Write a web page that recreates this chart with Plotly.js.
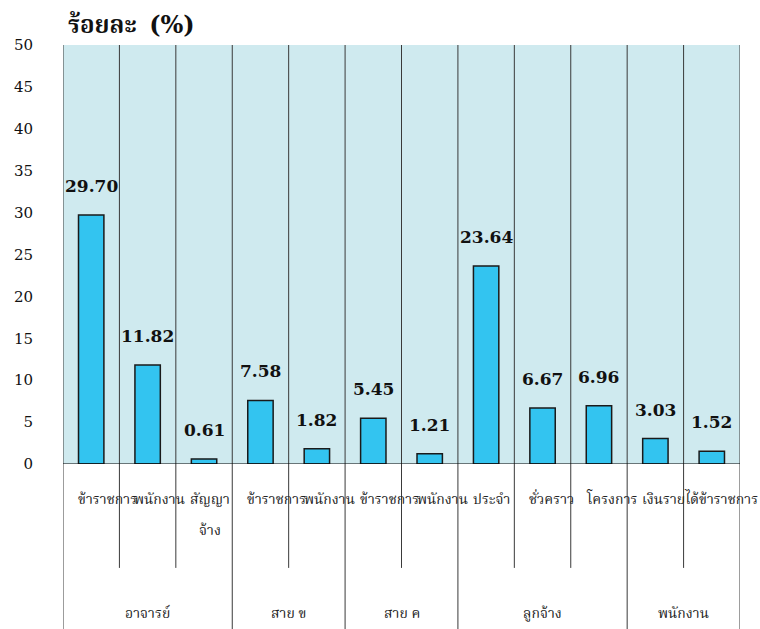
<!DOCTYPE html>
<html>
<head>
<meta charset="utf-8">
<script src="https://cdn.plot.ly/plotly-3.0.1.min.js"></script>
<style>html,body{margin:0;padding:0;background:#fff;}#chart{width:760px;height:629px;}</style>
</head>
<body>
<div id="chart"></div>
<script>
const groups = ["อาจารย์", "สาย ข", "สาย ค", "ลูกจ้าง", "พนักงาน"];
const groupSizes = [3, 2, 2, 3, 2];
const subLabels = ["ข้าราชการ", "พนักงาน", "สัญญา<br>จ้าง", "ข้าราชการ", "พนักงาน", "ข้าราชการ", "พนักงาน", "ประจำ", "ชั่วคราว", "โครงการ", "เงินรายได้", "ข้าราชการ"];
const values = [29.70, 11.82, 0.61, 7.58, 1.82, 5.45, 1.21, 23.64, 6.67, 6.96, 3.03, 1.52];
const valueLabels = ["29.70", "11.82", "0.61", "7.58", "1.82", "5.45", "1.21", "23.64", "6.67", "6.96", "3.03", "1.52"];
const yTicks = [0, 5, 10, 15, 20, 25, 30, 35, 40, 45, 50];

const idx = values.map((v, i) => i);
const thaiFont = "'Noto Serif Thai', 'Noto Sans Thai Looped', Loma, Garuda, Norasi, Kinnari, Tahoma, sans-serif";
const numFont = "'DejaVu Serif', 'Liberation Serif', serif";

const shapes = [];
const annotations = [];
const groupStarts = [];
let acc = 0;
groupSizes.forEach(s => { groupStarts.push(acc); acc += s; });
const n = values.length;
for (let b = 0; b <= n; b++) {
  const isGroup = b === n || groupStarts.includes(b);
  shapes.push({type: 'line', xref: 'x', yref: 'paper', x0: b - 0.5, x1: b - 0.5,
    y0: isGroup ? -0.41 : -0.248, y1: 1, line: {color: '#3a3a3a', width: 1}});
}
shapes.push({type: 'line', xref: 'paper', yref: 'y', x0: 0, x1: 1, y0: 0, y1: 0, line: {color: '#000', width: 1}});

idx.forEach(i => {
  annotations.push({x: i, y: values[i], xref: 'x', yref: 'y', text: '<b>' + valueLabels[i] + '</b>',
    showarrow: false, yanchor: 'bottom', yshift: 17, font: {family: numFont, size: 17, color: '#111'}});
  const lines = subLabels[i].split('<br>');
  lines.forEach((line, k) => {
    const multi = lines.length > 1;
    annotations.push({x: multi ? i : i - 0.5, y: -0.087 - k * 0.072, xref: 'x', yref: 'paper', text: line, showarrow: false,
      xanchor: multi ? 'center' : 'left', xshift: multi ? 6 : 13, yanchor: 'middle',
      font: {family: thaiFont, size: 14, color: '#222'}});
  });
});
groups.forEach((g, k) => {
  const c = groupStarts[k] + (groupSizes[k] - 1) / 2;
  annotations.push({x: c, y: -0.358, xref: 'x', yref: 'paper', text: g, showarrow: false,
    yanchor: 'middle', font: {family: thaiFont, size: 14, color: '#222'}});
});
annotations.push({x: 0.004, y: 1.045, xref: 'paper', yref: 'paper', xanchor: 'left', yanchor: 'middle',
  text: '<b>ร้อยละ&nbsp;&nbsp;<span style="font-family:\'DejaVu Serif\', serif">(%)</span></b>', showarrow: false,
  font: {family: thaiFont, size: 24, color: '#111'}});

const trace = {
  type: 'bar', x: idx, y: values, width: 0.45,
  marker: {color: '#33c4f0', line: {color: '#1a1a1a', width: 1.5}},
  hoverinfo: 'none'
};

const layout = {
  width: 760, height: 629,
  margin: {l: 63, r: 20, t: 45, b: 165},
  paper_bgcolor: '#ffffff', plot_bgcolor: '#cfeaef',
  showlegend: false,
  xaxis: {range: [-0.5, n - 0.5], showticklabels: false, showgrid: false, zeroline: false, ticks: '', fixedrange: true},
  yaxis: {range: [0, 50], tickvals: yTicks, showgrid: false, zeroline: false, showline: false,
    ticks: 'outside', ticklen: 26, tickcolor: 'rgba(0,0,0,0)',
    tickfont: {family: numFont, size: 15, color: '#111'}},
  shapes: shapes, annotations: annotations
};
Plotly.newPlot('chart', [trace], layout, {displayModeBar: false, staticPlot: true});
</script>
</body>
</html>
